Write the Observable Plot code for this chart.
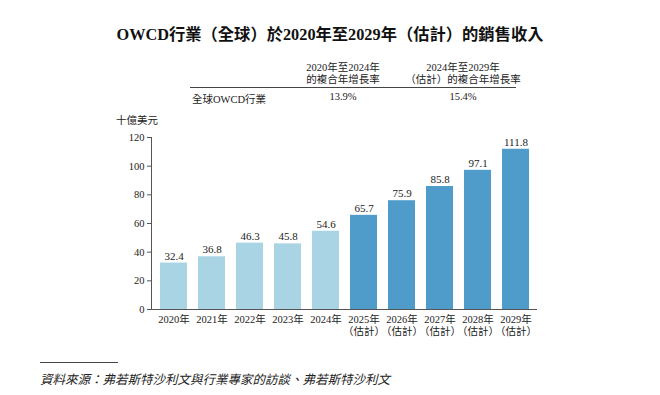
<!DOCTYPE html>
<html><head><meta charset="utf-8">
<script src="https://cdn.jsdelivr.net/npm/d3@7"></script>
<script src="https://cdn.jsdelivr.net/npm/@observablehq/plot@0.6"></script>
<style>
body{margin:0;background:#fff;width:660px;height:395px;position:relative;overflow:hidden;
 font-family:"Liberation Serif","Noto Sans CJK TC",serif;color:#222;}
.abs{position:absolute;white-space:nowrap;}
#title{left:0;width:660px;top:21px;text-align:center;font-size:16.3px;font-weight:bold;color:#111;}
.th{font-size:10.5px;text-align:center;line-height:12px;}
.td{font-size:10.5px;}
#chart{position:absolute;left:0;top:105px;}
</style></head><body>
<div id="title" class="abs"></div>
<div id="h1" class="abs th" style="left:283px;width:120px;top:62px;"></div>
<div id="h2" class="abs th" style="left:393px;width:140px;top:62px;"></div>
<div class="abs" style="left:190px;top:87px;width:326px;border-top:1px solid #444;"></div>
<div id="rowlabel" class="abs td" style="left:192px;top:91px;"></div>
<div id="r1" class="abs td" style="left:303px;width:80px;top:91px;text-align:center;"></div>
<div id="r2" class="abs td" style="left:423px;width:80px;top:91px;text-align:center;"></div>
<div id="unit" class="abs" style="left:116px;top:112px;font-size:10.5px;"></div>
<div id="chart"></div>
<div class="abs" style="left:40px;top:362px;width:78px;border-top:1px solid #444;"></div>
<div id="source" class="abs" style="left:40px;top:369px;font-size:12.5px;font-style:italic;"></div>
<script>
const titleText = "OWCD行業（全球）於2020年至2029年（估計）的銷售收入";
const tableHeaders = ["2020年至2024年\n的複合年增長率", "2024年至2029年\n（估計）的複合年增長率"];
const rowLabel = "全球OWCD行業";
const cagrValues = ["13.9%", "15.4%"];
const unitLabel = "十億美元";
const sourceText = "資料來源：弗若斯特沙利文與行業專家的訪談、弗若斯特沙利文";

const years = ["2020","2021","2022","2023","2024","2025","2026","2027","2028","2029"];
const revenue = [32.4, 36.8, 46.3, 45.8, 54.6, 65.7, 75.9, 85.8, 97.1, 111.8];
const estimated = [false,false,false,false,false,true,true,true,true,true];
const yTicks = [0, 20, 40, 60, 80, 100, 120];

document.getElementById("title").textContent = titleText;
document.getElementById("h1").innerHTML = tableHeaders[0].replace("\n","<br>");
document.getElementById("h2").innerHTML = tableHeaders[1].replace("\n","<br>");
document.getElementById("rowlabel").textContent = rowLabel;
document.getElementById("r1").textContent = cagrValues[0];
document.getElementById("r2").textContent = cagrValues[1];
document.getElementById("unit").textContent = unitLabel;
document.getElementById("source").textContent = sourceText;

const data = years.map((y, i) => ({year: y, value: revenue[i], est: estimated[i]}));

const chart = Plot.plot({
  width: 660,
  height: 239,
  marginLeft: 151,
  marginRight: 123,
  marginTop: 32,
  marginBottom: 35,
  style: {fontFamily: '"Liberation Serif","Noto Sans CJK TC",serif', fontSize: "10.5px", color: "#222", background: "transparent"},
  x: {domain: years, paddingInner: 0.29, paddingOuter: 0.14},
  y: {domain: [0, 120]},
  marks: [
    Plot.barY(data, {x: "year", y: "value", fill: d => d.est ? "#4f9cca" : "#a9d4e4"}),
    Plot.text(data, {x: "year", y: "value", text: d => d.value.toFixed(1), dy: -7, fontSize: 11, fill: "#222"}),
    Plot.axisY({ticks: yTicks, tickSize: 4, label: null, tickPadding: 3, stroke: "#555"}),
    Plot.axisX({tickSize: 0, tickPadding: 5, label: null, lineHeight: 1.15,
      tickFormat: (d, i) => estimated[years.indexOf(d)] ? d + "年\n（估計）" : d + "年"}),
    Plot.frame({anchor: "left", stroke: "#555"}),
    Plot.ruleY([0], {stroke: "#555"})
  ]
});
document.getElementById("chart").appendChild(chart);
</script>
</body></html>
